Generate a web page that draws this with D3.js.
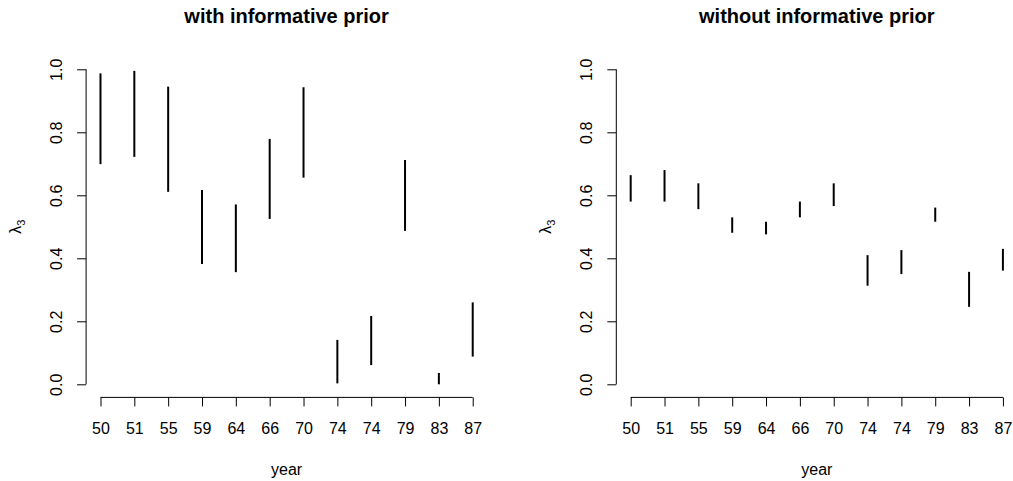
<!DOCTYPE html>
<html>

<head>
    <script src="https://cdnjs.cloudflare.com/ajax/libs/d3/7.8.5/d3.min.js"></script>
    <style>
        body {
            margin: 0;
            background: white;
        }

        text {
            font-family: 'Liberation Sans', Arial, sans-serif;
        }
    </style>
</head>

<body>
    <script>
        // data
        const years = ['50', '51', '55', '59', '64', '66', '70', '74', '74', '79', '83', '87']

        const lowerInformative = [0.699, 0.722, 0.611, 0.382, 0.356, 0.525, 0.656, 0.003, 0.061, 0.487, 0.0, 0.088]
        const upperInformative = [0.987, 0.995, 0.945, 0.617, 0.571, 0.779, 0.943, 0.141, 0.217, 0.712, 0.036, 0.260]

        const lowerFlat = [0.580, 0.580, 0.556, 0.481, 0.476, 0.530, 0.566, 0.313, 0.350, 0.516, 0.246, 0.361]
        const upperFlat = [0.664, 0.680, 0.638, 0.530, 0.516, 0.580, 0.638, 0.410, 0.426, 0.561, 0.357, 0.430]

        const yTicks = [0, 0.2, 0.4, 0.6, 0.8, 1.0]

        const titles = ['with informative prior', 'without informative prior']

        const w = 1013
        const h = 481

        const svg = d3.select("body")
            .append("svg")
            .attr("width", w)
            .attr("height", h)

        // plot region of each panel (R style, 4% padding)
        const plotW = 402
        const plotTop = 56.7
        const plotBottom = 396.9
        const panelLeft = [85.6, 615.8]

        const y = d3.scaleLinear()
            .domain([-0.04, 1.04])
            .range([plotBottom, plotTop])

        function drawPanel(left, lower, upper, title) {
            const idx = d3.range(years.length)
            const x = d3.scaleLinear()
                .domain([1 - 0.44, years.length + 0.44])
                .range([left, left + plotW])

            const g = svg.append("g")

            // x axis
            const xAxis = d3.axisBottom(x)
                .tickValues(idx.map(i => i + 1))
                .tickFormat(d => years[d - 1])
                .tickSize(9)
                .tickPadding(16)

            const gx = g.append("g")
                .attr("transform", `translate(0,${plotBottom + 0.5})`)
                .call(xAxis)
            gx.select(".domain").remove()
            gx.append("line")
                .attr("x1", x(1))
                .attr("x2", x(years.length))
                .attr("stroke", "black")
            gx.selectAll("text")
                .attr("font-size", 16)
                .attr("fill", "black")
                .attr("font-family", "'Liberation Sans', Arial, sans-serif")

            // y axis
            const yAxis = d3.axisLeft(y)
                .tickValues(yTicks)
                .tickFormat(d3.format(".1f"))
                .tickSize(9)
                .tickPadding(0)

            const gy = g.append("g")
                .attr("transform", `translate(${left + 0.5},0)`)
                .call(yAxis)
            gy.select(".domain").remove()
            gy.append("line")
                .attr("y1", y(0))
                .attr("y2", y(1))
                .attr("stroke", "black")
            gy.selectAll(".tick text")
                .attr("x", null)
                .attr("dy", null)
                .attr("font-size", 16)
                .attr("fill", "black")
                .attr("font-family", "'Liberation Sans', Arial, sans-serif")
                .attr("text-anchor", "middle")
                .attr("transform", "translate(-24.5,0) rotate(-90)")

            // intervals
            g.selectAll("line.bar")
                .data(idx)
                .enter()
                .append("line")
                .attr("class", "bar")
                .attr("x1", i => x(i + 1))
                .attr("x2", i => x(i + 1))
                .attr("y1", i => y(lower[i]))
                .attr("y2", i => y(upper[i]))
                .attr("stroke", "black")
                .attr("stroke-width", 2)

            // title
            g.append("text")
                .text(title)
                .attr("x", left + plotW / 2)
                .attr("y", 23)
                .attr("text-anchor", "middle")
                .attr("font-size", 20)
                .attr("font-weight", "bold")

            // axis labels
            g.append("text")
                .text("year")
                .attr("x", left + plotW / 2)
                .attr("y", 474.5)
                .attr("text-anchor", "middle")
                .attr("font-size", 16)

            const ylab = g.append("text")
                .attr("transform", `translate(${left - 65},${(plotTop + plotBottom) / 2}) rotate(-90)`)
                .attr("text-anchor", "middle")
                .attr("font-size", 16)
            ylab.append("tspan").text("λ")
            ylab.append("tspan").text("3").attr("font-size", 11).attr("dy", 4)
        }

        drawPanel(panelLeft[0], lowerInformative, upperInformative, titles[0])
        drawPanel(panelLeft[1], lowerFlat, upperFlat, titles[1])
    </script>
</body>

</html>
